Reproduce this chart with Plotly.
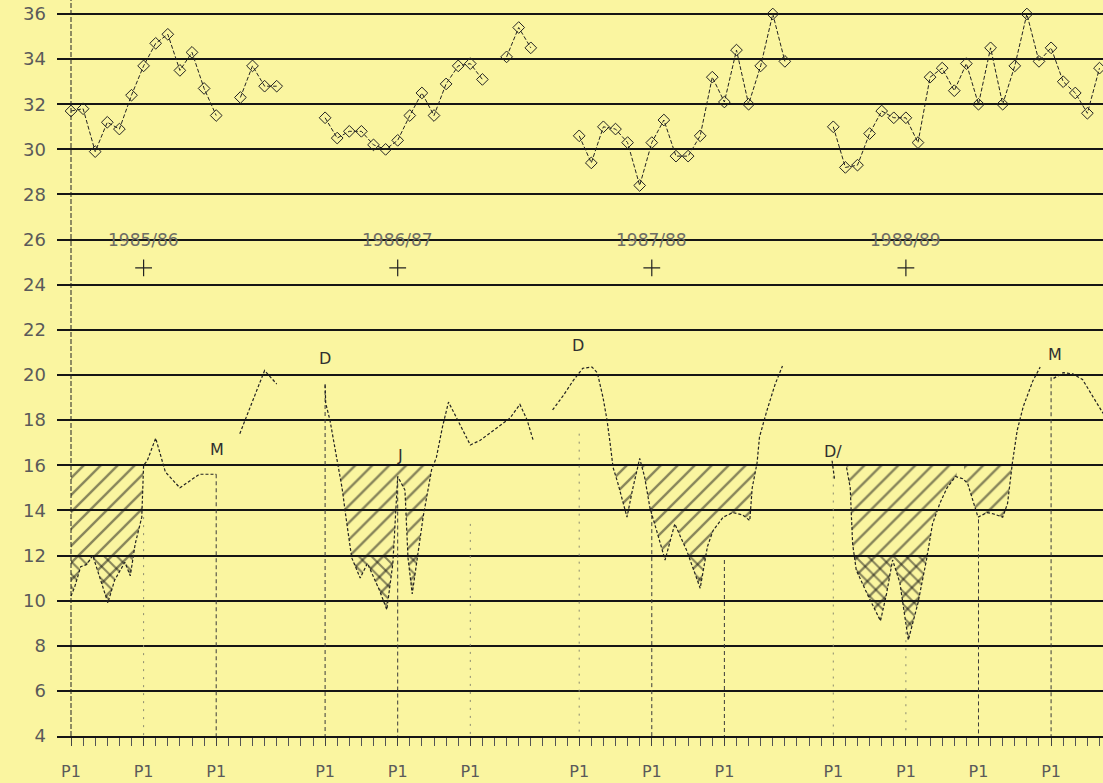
import plotly.graph_objects as go

# ---------------------------------------------------------------------------
# Data (x in weeks from the start of the 1985/86 record, y on the common scale)
# ---------------------------------------------------------------------------

# Upper series, one point per week, None separates broken stretches
upper_x = [0, 1, 2, 3, 4, 5, 6, 7, 8, 9, 10, 11, 12, None,
           14, 15, 16, 17, None,
           21, 22, 23, 24, 25, 26, 27, 28, 29, 30, 31, 32, 33, 34, None,
           36, 37, 38, None,
           42, 43, 44, 45, 46, 47, 48, 49, 50, 51, 52, 53, 54, 55, 56, 57, 58, 59, None,
           63, 64, 65, 66, 67, 68, 69, 70, 71, 72, 73, 74, 75, 76, 77, 78, 79, 80,
           81, 82, 83, 84, 85]
upper_y = [31.7, 31.8, 29.9, 31.2, 30.9, 32.4, 33.7, 34.7, 35.1, 33.5, 34.3, 32.7, 31.5, None,
           32.3, 33.7, 32.8, 32.8, None,
           31.4, 30.5, 30.8, 30.8, 30.2, 30.0, 30.4, 31.5, 32.5, 31.5, 32.9, 33.7, 33.8, 33.1, None,
           34.1, 35.4, 34.5, None,
           30.6, 29.4, 31.0, 30.9, 30.3, 28.4, 30.3, 31.3, 29.7, 29.7, 30.6, 33.2, 32.1, 34.4,
           32.0, 33.7, 36.0, 33.9, None,
           31.0, 29.2, 29.3, 30.7, 31.7, 31.4, 31.4, 30.3, 33.2, 33.6, 32.6, 33.8, 32.0, 34.5,
           32.0, 33.7, 36.0, 33.9, 34.5, 33.0, 32.5, 31.6, 33.6]

# Lower series, traced curve; None separates broken stretches
lower_x = [0.0, 0.3, 0.8, 1.3, 1.8, 2.4, 3.05, 3.6, 4.45, 4.9, 5.3, 5.85, 6.0, 6.3, 7.0,
           7.8, 9.0, 10.6, 12.0, None,
           13.95, 16.0, 17.0, None,
           21.0, 21.05, 21.4, 22.07, 22.4, 22.8, 23.2, 23.9, 24.5, 25.5, 26.1, 26.6, 27.0,
           27.6, 27.85, 28.2, 28.6, 29.1, 29.8, 30.2, 30.7, 31.2, 32.1, 33.0, 33.8, 34.9,
           36.3, 37.1, 37.7, 38.2, None,
           39.8, 40.7, 41.5, 42.3, 43.06, 43.5, 43.97, 44.3, 44.55, 44.8, 45.2, 45.95, 46.4,
           46.86, 47.0, 47.4, 47.85, 48.4, 49.1, 49.9, 50.9, 52.0, 52.6, 53.06, 53.9, 54.7,
           55.5, 56.1, 56.3, 56.7, 56.9, 57.5, 58.2, 58.8, None,
           62.9, 63.1, None,
           64.1, 64.4, 64.5, 64.6, 64.9, 65.8, 66.9, 67.4, 67.9, 68.5, 69.2, 70.0, 70.7,
           71.2, 71.8, 72.4, 73.1, 73.7, 74.1, 74.5, 74.96, 75.7, 76.2, 77.0, 77.4, 77.8,
           78.2, 78.7, 79.5, 80.1, None,
           81.2, 82.0, 82.8, 83.6, 84.5, 85.3]
lower_y = [10.2, 10.6, 11.5, 11.6, 12.0, 11.0, 9.9, 10.9, 11.7, 11.1, 12.5, 13.7, 16.0, 16.2, 17.2,
           15.7, 15.0, 15.6, 15.6, None,
           17.4, 20.2, 19.6, None,
           19.55, 18.75, 18.0, 16.1, 15.0, 13.4, 11.9, 11.0, 11.65, 10.45, 9.6, 11.65, 15.5,
           14.9, 11.9, 10.3, 11.8, 13.7, 15.8, 16.35, 17.7, 18.8, 17.85, 16.9, 17.1, 17.55,
           18.1, 18.7, 18.0, 17.1, None,
           18.45, 19.1, 19.75, 20.3, 20.35, 20.1, 19.0, 18.0, 17.0, 15.9, 15.2, 13.7, 14.9,
           16.1, 16.3, 15.5, 14.1, 13.1, 11.8, 13.4, 12.2, 10.55, 12.4, 13.1, 13.7, 13.9,
           13.8, 13.55, 15.0, 16.1, 17.25, 18.4, 19.6, 20.4, None,
           16.2, 15.4, None,
           15.9, 15.0, 13.7, 12.5, 11.35, 10.3, 9.1, 10.3, 11.8, 10.8, 8.25, 9.9, 11.8,
           13.4, 14.3, 15.0, 15.5, 15.4, 15.2, 14.45, 13.7, 13.9, 13.85, 13.7, 14.3, 16.1,
           17.55, 18.6, 19.75, 20.35, None,
           19.85, 20.1, 20.05, 19.8, 19.0, 18.3]

# Hatched stretches of the lower curve (week ranges) and the two threshold levels
shade_start = [0.0, 21.5, 44.5, 64.1, 73.8]
shade_end = [6.0, 30.2, 57.0, 73.2, 77.9]
upper_level = 16
lower_level = 12

# Period markers (P1) along the time axis
p1_weeks = [0, 6, 12, 21, 27, 33, 42, 48, 54, 63, 69, 75, 81]
p1_strong = [12, 21, 27, 48, 54, 75, 81]
p1_strong_top = [15.6, 19.6, 15.5, 14.1, 11.8, 13.6, 19.9]
p1_faint = [6, 33, 42, 63, 69]
p1_faint_top = [13.7, 13.4, 17.4, 15.5, 8.6]

# Season labels
season_names = ["1985/86", "1986/87", "1987/88", "1988/89"]
season_weeks = [6, 27, 48, 69]
season_label_y = 26.0
season_mark_y = 24.75

# Event letters on the lower curve
event_text = ["M", "D", "J", "D", "D/", "M"]
event_x = [12.1, 21.0, 27.2, 41.9, 63.0, 81.3]
event_y = [16.7, 20.75, 16.45, 21.3, 16.6, 20.9]

BG = "#FAF5A0"
INK = "#222222"
PEN = "#5a5a5a"
FONT = "DejaVu Sans"


def split_pieces(xs, ys):
    pieces, cur = [], []
    for x, y in zip(xs, ys):
        if x is None or y is None:
            if cur:
                pieces.append(cur)
            cur = []
        else:
            cur.append((x, y))
    if cur:
        pieces.append(cur)
    return pieces


def interp(p, q, x):
    (x1, y1), (x2, y2) = p, q
    if x2 == x1:
        return y1
    return y1 + (y2 - y1) * (x - x1) / (x2 - x1)


def band_polygons(xs, ys, starts, ends, level):
    """Polygons between the curve (where it dips below `level`) and `level`."""
    out_x, out_y = [], []
    for piece in split_pieces(xs, ys):
        for a, b in zip(starts, ends):
            lo, hi = max(a, piece[0][0]), min(b, piece[-1][0])
            if hi <= lo:
                continue
            # sub-polyline inside [lo, hi]
            sub = []
            for i in range(len(piece) - 1):
                p, q = piece[i], piece[i + 1]
                if q[0] < lo or p[0] > hi:
                    continue
                if not sub:
                    sub.append((lo, interp(p, q, lo)) if p[0] < lo else p)
                if q[0] <= hi:
                    sub.append(q)
                else:
                    sub.append((hi, interp(p, q, hi)))
                    break
            # insert level crossings and clip to the level
            clipped = []
            for i, (x, y) in enumerate(sub):
                if i > 0:
                    px_, py_ = sub[i - 1]
                    if (py_ - level) * (y - level) < 0:
                        cx = px_ + (level - py_) * (x - px_) / (y - py_)
                        clipped.append((cx, level))
                clipped.append((x, min(y, level)))
            if len(clipped) < 2:
                continue
            out_x += [c[0] for c in clipped] + [clipped[-1][0], clipped[0][0], None]
            out_y += [c[1] for c in clipped] + [level, level, None]
    return out_x, out_y


fig = go.Figure()

# Hatching between the lower curve and the 16 level
hx, hy = band_polygons(lower_x, lower_y, shade_start, shade_end, upper_level)
fig.add_trace(go.Scatter(
    x=hx, y=hy, mode="none", fill="toself", fillcolor="rgba(0,0,0,0)",
    fillpattern=dict(shape="/", size=12, solidity=0.2, fgcolor="#141414"),
    hoverinfo="skip"))

# Extra counter-hatching below the 12 level (gives the cross-hatch)
cx, cy = band_polygons(lower_x, lower_y, shade_start, shade_end, lower_level)
fig.add_trace(go.Scatter(
    x=cx, y=cy, mode="none", fill="toself", fillcolor="rgba(0,0,0,0)",
    fillpattern=dict(shape="\\", size=9, solidity=0.22, fgcolor="#141414"),
    hoverinfo="skip"))

# Vertical dashed axis line at week 0
fig.add_trace(go.Scatter(
    x=[0, 0], y=[4, 36.62], mode="lines",
    line=dict(color=INK, width=1, dash="5px,2px"), hoverinfo="skip"))


# P1 drop lines
def drops(weeks, tops):
    xs, ys = [], []
    for w, t in zip(weeks, tops):
        xs += [w, w, None]
        ys += [t, 4, None]
    return xs, ys


sx, sy = drops(p1_strong, p1_strong_top)
fig.add_trace(go.Scatter(x=sx, y=sy, mode="lines",
                         line=dict(color="#3a3a3a", width=1, dash="4px,3px"),
                         hoverinfo="skip"))
fx, fy = drops(p1_faint, p1_faint_top)
fig.add_trace(go.Scatter(x=fx, y=fy, mode="lines",
                         line=dict(color="#8a8a70", width=1, dash="2px,6px"),
                         hoverinfo="skip"))

# Lower curve
fig.add_trace(go.Scatter(
    x=lower_x, y=lower_y, mode="lines", connectgaps=False,
    line=dict(color=INK, width=1.2, dash="3px,2px"), hoverinfo="skip"))

# Upper series with open diamonds
fig.add_trace(go.Scatter(
    x=upper_x, y=upper_y, mode="lines+markers", connectgaps=False,
    line=dict(color=INK, width=1, dash="4px,2px"),
    marker=dict(symbol="diamond-open", size=9, color=INK, line=dict(width=1, color=INK)),
    hoverinfo="skip"))

# Season centre marks
fig.add_trace(go.Scatter(
    x=season_weeks, y=[season_mark_y] * len(season_weeks), mode="markers",
    marker=dict(symbol="cross-thin-open", size=12, color=INK,
                line=dict(width=1.2, color=INK)),
    hoverinfo="skip"))

for name, w in zip(season_names, season_weeks):
    fig.add_annotation(x=w, y=season_label_y, text=name, showarrow=False,
                       font=dict(family=FONT, size=17, color="#6e6e64"),
                       xanchor="center", yanchor="middle")

for t, x, y in zip(event_text, event_x, event_y):
    fig.add_annotation(x=x, y=y, text=t, showarrow=False,
                       font=dict(family=FONT, size=16, color="#303030"),
                       xanchor="center", yanchor="middle")

fig.update_layout(
    width=1103, height=783,
    margin=dict(l=57, r=0, t=0, b=47),
    paper_bgcolor=BG, plot_bgcolor=BG,
    showlegend=False,
    xaxis=dict(
        range=[-1.157, 85.29],
        tickmode="array", tickvals=p1_weeks, ticktext=["P1"] * len(p1_weeks),
        ticks="outside", ticklen=8, tickwidth=1, tickcolor="#444",
        showgrid=False, zeroline=False,
        showline=True, linecolor="#151515", linewidth=2,
        tickfont=dict(family=FONT, size=16, color=PEN),
        ticklabelstandoff=12,
        minor=dict(tickmode="array", tickvals=list(range(0, 86)), ticks="outside",
                   ticklen=8, tickwidth=1, tickcolor="#555", showgrid=False),
    ),
    yaxis=dict(
        range=[4, 36.62],
        tickmode="array", tickvals=list(range(4, 37, 2)),
        showgrid=True, gridcolor="#151515", gridwidth=2,
        zeroline=False, showline=False, ticks="",
        tickfont=dict(family=FONT, size=18, color=PEN),
        ticklabelstandoff=10,
    ),
)

fig.write_html("out.html")
